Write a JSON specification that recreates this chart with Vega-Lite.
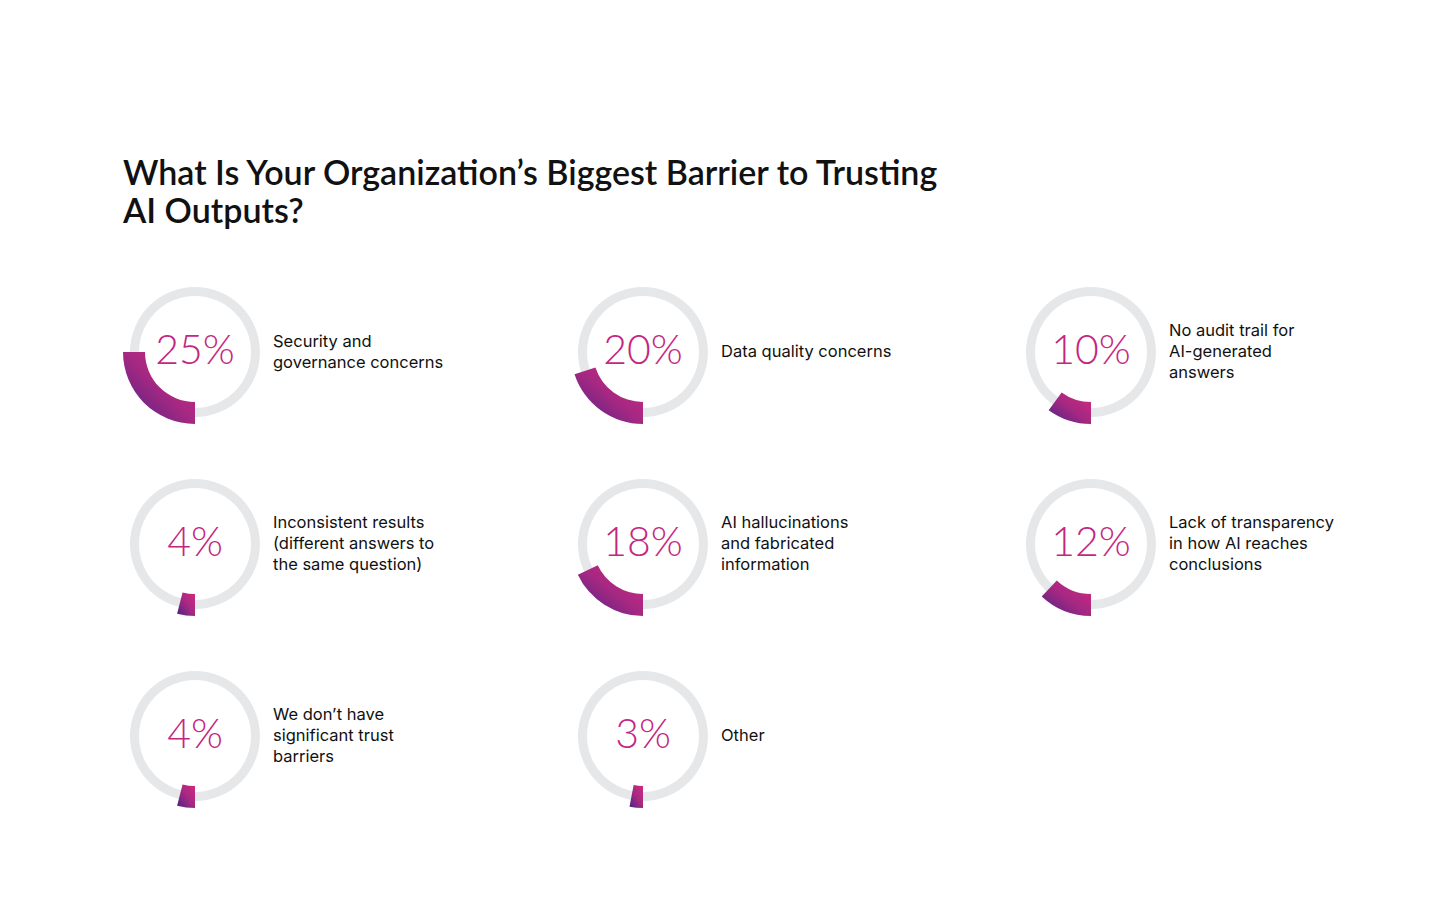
{
  "$schema": "https://vega.github.io/schema/vega-lite/v6.json",
  "background": "white",
  "padding": {"left": 123, "top": 158, "right": 10, "bottom": 10},
  "bounds": "flush",
  "title": {
    "text": ["What Is Your Organization’s Biggest Barrier to Trusting", "AI Outputs?"],
    "anchor": "start",
    "font": "Lato",
    "fontSize": 34,
    "fontWeight": 600,
    "color": "#111111",
    "lineHeight": 38,
    "offset": 26
  },
  "data": {
    "values": [
      {"barrier": "Security and\ngovernance concerns", "share": 0.25},
      {"barrier": "Data quality concerns", "share": 0.20},
      {"barrier": "No audit trail for\nAI-generated\nanswers", "share": 0.10},
      {"barrier": "Inconsistent results\n(different answers to\nthe same question)", "share": 0.04},
      {"barrier": "AI hallucinations\nand fabricated\ninformation", "share": 0.18},
      {"barrier": "Lack of transparency\nin how AI reaches\nconclusions", "share": 0.12},
      {"barrier": "We don’t have\nsignificant trust\nbarriers", "share": 0.04},
      {"barrier": "Other", "share": 0.03}
    ]
  },
  "facet": {
    "field": "barrier",
    "type": "nominal",
    "sort": [
      "Security and\ngovernance concerns",
      "Data quality concerns",
      "No audit trail for\nAI-generated\nanswers",
      "Inconsistent results\n(different answers to\nthe same question)",
      "AI hallucinations\nand fabricated\ninformation",
      "Lack of transparency\nin how AI reaches\nconclusions",
      "We don’t have\nsignificant trust\nbarriers",
      "Other"
    ],
    "header": {"labels": false, "title": null, "labelExpr": "''", "labelFontSize": 0, "labelPadding": 0}
  },
  "columns": 3,
  "spacing": {"column": 308, "row": 0},
  "spec": {
    "width": 140,
    "height": 192,
    "layer": [
      {
        "mark": {"type": "arc", "innerRadius": 56, "outerRadius": 65, "theta": 0, "theta2": 6.2832, "fill": "#e6e7e9"},
        "encoding": {}
      },
      {
        "mark": {
          "type": "arc",
          "innerRadius": 50,
          "outerRadius": 72,
          "fill": {
            "gradient": "linear",
            "x1": 1, "y1": 0, "x2": 0, "y2": 1,
            "stops": [
              {"offset": 0, "color": "#d4297e"},
              {"offset": 0.5, "color": "#a52882"},
              {"offset": 1, "color": "#472385"}
            ]
          }
        },
        "encoding": {
          "theta": {
            "field": "share",
            "type": "quantitative",
            "scale": {"domain": [0, 1], "range": [3.14159, 9.42478]}
          }
        }
      },
      {
        "mark": {"type": "text", "font": "Lato", "fontSize": 41, "fontWeight": 300, "color": "#c4277f", "align": "center", "baseline": "middle"},
        "encoding": {"text": {"field": "share", "type": "quantitative", "format": ".0%"}}
      },
      {
        "mark": {
          "type": "text", "font": "Inter", "fontSize": 16.5, "lineHeight": 21, "lineBreak": "\n", "color": "#111111",
          "align": "left", "baseline": "middle", "dx": 78,
          "dy": {"expr": "-(length(split(datum.barrier, '\\n')) - 1) * 10.5"}
        },
        "encoding": {"text": {"field": "barrier", "type": "nominal"}}
      }
    ]
  },
  "config": {
    "view": {"stroke": null},
    "header": {"labels": false, "title": null},
    "headerFacet": {"labels": false, "title": null}
  }
}
